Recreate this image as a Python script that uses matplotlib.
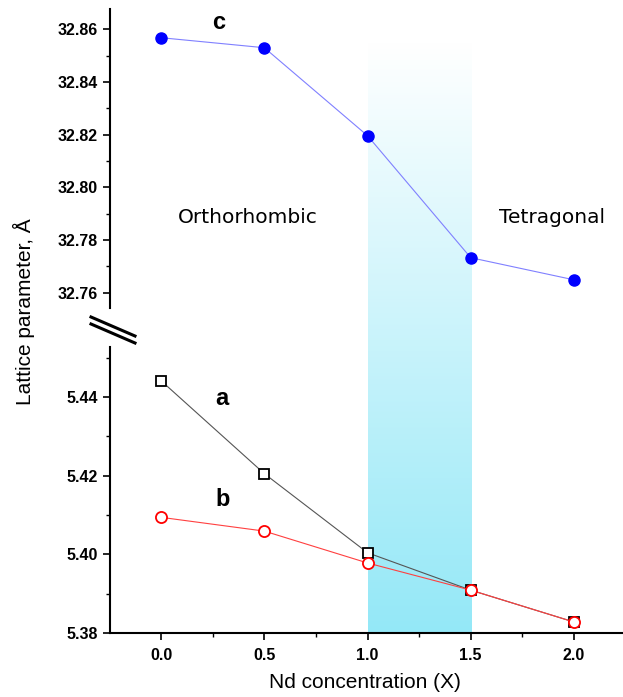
"""Lattice parameters vs Nd concentration, with broken y-axis."""
import numpy as np
import matplotlib.pyplot as plt
from matplotlib.colors import LinearSegmentedColormap
from matplotlib.ticker import MultipleLocator

nd_x = [0.0, 0.5, 1.0, 1.5, 2.0]
lat_a = [5.4441, 5.4205, 5.4004, 5.3909, 5.3828]
lat_b = [5.4094, 5.4059, 5.3978, 5.3909, 5.3828]
lat_c = [32.8568, 32.8530, 32.8196, 32.7733, 32.7649]
transition = (1.0, 1.5)

tick_font = {'family': 'Liberation Sans', 'weight': 'bold', 'size': 11.5}
label_font = {'family': 'Liberation Sans', 'size': 15}

W, H = 623, 697
fig = plt.figure(figsize=(W / 100, H / 100), dpi=100)
left, right = 110 / W, 1.0
low_b, low_t = (H - 633) / H, (H - 347) / H
up_b, up_t = (H - 308) / H, (H - 9) / H
xlim = (-0.248, 2.238)

# gradient band behind both panels
bg = fig.add_axes([left, low_b, right - left, up_t - low_b], zorder=0)
bg.axis('off')
cmap = LinearSegmentedColormap.from_list('band', ['#94e8f7', '#ffffff'])
grad = np.linspace(0, 1, 256).reshape(-1, 1)
bg.imshow(grad, cmap=cmap, origin='lower', aspect='auto',
          extent=[transition[0], transition[1], 0, 591 / 624])
bg.set_xlim(xlim)
bg.set_ylim(0, 1)

ax_up = fig.add_axes([left, up_b, right - left, up_t - up_b], zorder=1)
ax_lo = fig.add_axes([left, low_b, right - left, low_t - low_b], zorder=1)

for ax in (ax_up, ax_lo):
    ax.patch.set_visible(False)
    ax.spines['top'].set_visible(False)
    ax.spines['right'].set_visible(False)
    ax.spines['left'].set_linewidth(1.5)
    ax.spines['bottom'].set_linewidth(1.5)
    ax.set_xlim(xlim)
    ax.tick_params(which='major', direction='out', length=5, width=1.2)
    ax.tick_params(which='minor', direction='out', length=3, width=1.0)

ax_up.spines['bottom'].set_visible(False)
ax_up.tick_params(axis='x', which='both', bottom=False, labelbottom=False)

# c parameter
ax_up.plot(nd_x, lat_c, '-', color='#8080ff', lw=0.8)
ax_up.plot(nd_x, lat_c, 'o', color='#0000ff', ms=8, mec='#0000ff', lw=0)
ax_up.set_ylim(32.7542, 32.8677)
ax_up.yaxis.set_minor_locator(MultipleLocator(0.01))
c_ticks = [32.76, 32.78, 32.80, 32.82, 32.84, 32.86]
ax_up.set_yticks(c_ticks)
ax_up.set_yticklabels([f'{v:.2f}' for v in c_ticks], **tick_font)

# a and b parameters
ax_lo.plot(nd_x, lat_a, '-', color='#555555', lw=0.8)
ax_lo.plot(nd_x, lat_a, 's', ms=7.5, mfc='white', mec='black', mew=1.3)
ax_lo.plot(nd_x, lat_b, '-', color='#ff4040', lw=0.8)
ax_lo.plot(nd_x, lat_b, 'o', ms=8, mfc='white', mec='#ff0000', mew=1.3)
ax_lo.set_ylim(5.38, 5.4527)
ab_ticks = [5.38, 5.40, 5.42, 5.44]
ax_lo.set_yticks(ab_ticks)
ax_lo.set_yticklabels([f'{v:.2f}' for v in ab_ticks], **tick_font)
ax_lo.yaxis.set_minor_locator(MultipleLocator(0.01))
ax_lo.set_xticks(nd_x)
ax_lo.set_xticklabels([f'{v:.1f}' for v in nd_x], **tick_font)
ax_lo.xaxis.set_minor_locator(MultipleLocator(0.25))
ax_lo.tick_params(axis='x', pad=6)

# series labels and phase names
ax_up.text(0.277, 32.8624, 'c', ha='center', va='center',
           family='Liberation Sans', weight='bold', size=17)
ax_lo.text(0.296, 5.4395, 'a', ha='center', va='center',
           family='Liberation Sans', weight='bold', size=17)
ax_lo.text(0.296, 5.4140, 'b', ha='center', va='center',
           family='Liberation Sans', weight='bold', size=17)
ax_up.text(0.42, 32.7887, 'Orthorhombic', ha='center', va='center',
           family='DejaVu Sans', size=14.5)
ax_up.text(1.893, 32.7887, 'Tetragonal', ha='center', va='center',
           family='DejaVu Sans', size=14.5)

# axis break marks
for dy in (0, 7):
    fig.add_artist(plt.Line2D([91 / W, 135 / W],
                              [(H - 317 - dy) / H, (H - 336 - dy) / H],
                              color='black', lw=2.2))

fig.text(24 / W, (H - 312) / H, 'Lattice parameter, Å', rotation=90,
         ha='center', va='center', **label_font)
fig.text(365 / W, (H - 683) / H, 'Nd concentration (X)',
         ha='center', va='center', **label_font)

fig.savefig('out.png', dpi=100)
plt.close(fig)
